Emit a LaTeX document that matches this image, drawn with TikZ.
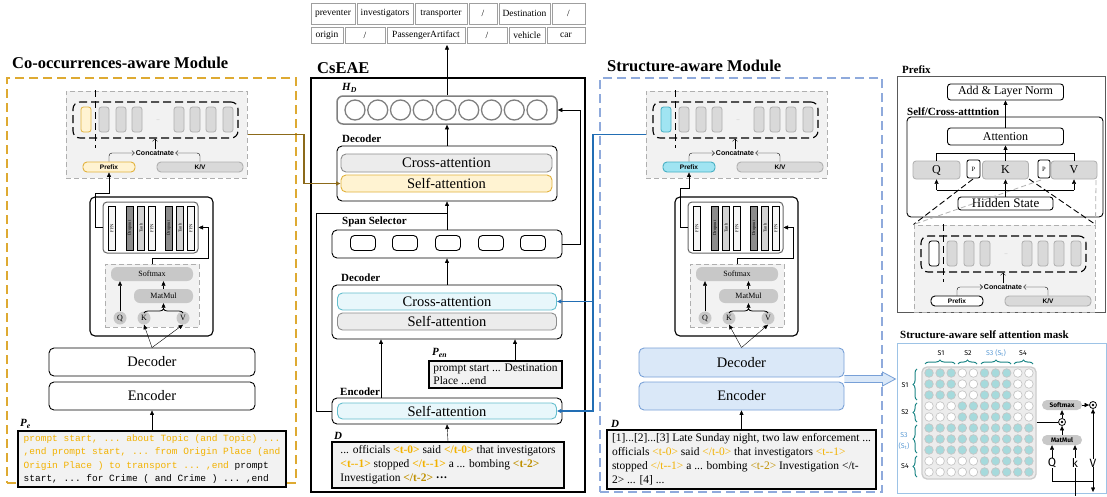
\documentclass[tikz,border=0pt]{standalone}
\usepackage{fontspec}
\setmainfont{Liberation Serif}
\setsansfont{Liberation Sans}
\setmonofont{Liberation Mono}
\newfontfamily\dinfont{Fira Sans}
\usetikzlibrary{arrows.meta,decorations.pathreplacing,calc}
\definecolor{goldd}{RGB}{222,170,50}
\definecolor{yelfill}{RGB}{255,243,210}
\definecolor{yelline}{RGB}{226,178,60}
\definecolor{olivec}{RGB}{140,106,26}
\definecolor{tagy}{RGB}{242,178,0}
\definecolor{tagd}{RGB}{191,144,0}
\definecolor{cyfill}{RGB}{232,247,251}
\definecolor{cyline}{RGB}{100,190,205}
\definecolor{cypre}{RGB}{160,228,242}
\definecolor{cypreline}{RGB}{70,175,195}
\definecolor{bluedash}{RGB}{143,170,220}
\definecolor{blueline}{RGB}{34,110,180}
\definecolor{decfill}{RGB}{218,232,248}
\definecolor{decline}{RGB}{120,160,215}
\definecolor{gfill}{RGB}{217,217,217}
\definecolor{gline}{RGB}{175,175,175}
\definecolor{lgfill}{RGB}{242,242,242}
\definecolor{pillc}{RGB}{200,200,200}
\definecolor{cgray}{RGB}{236,236,236}
\definecolor{cgrayline}{RGB}{140,140,140}
\definecolor{hdgray}{RGB}{128,128,128}
\definecolor{maskteal}{RGB}{166,218,220}
\definecolor{bracec}{RGB}{30,135,135}
\definecolor{s3blue}{RGB}{91,155,213}
\definecolor{maskbox}{RGB}{157,195,230}
\definecolor{wbar}{RGB}{246,246,246}
\definecolor{dkbar}{RGB}{140,140,140}
\definecolor{ltbar}{RGB}{210,210,210}
\newcommand{\ty}[1]{\textcolor{tagy}{#1}}
\newcommand{\td}[1]{\textcolor{tagd}{#1}}
\newcommand{\fsz}[2]{\fontsize{#1}{#2}\selectfont}
\tikzset{
  lab/.style={font=\fsz{11}{11}\bfseries, inner sep=0pt, anchor=west},
  ttl/.style={font=\fsz{16.5}{16.5}\bfseries, inner sep=0pt, anchor=west},
  rbox/.style={draw, rounded corners=5pt, line width=0.9pt, inner sep=0pt, fill=white},
  big/.style={font=\fsz{14.5}{14.5}},
  pillbox/.style={rounded corners=5pt, line width=0.9pt, inner sep=0pt, big},
  bar/.style={draw, line width=0.6pt, inner sep=0pt, minimum width=44pt, minimum height=7pt, font=\fsz{4.5}{4.5}},
  cyl/.style={rounded corners=2.5pt, minimum width=10pt, minimum height=25pt, fill=gfill, draw=gline, line width=0.8pt, inner sep=0pt},
  catbg/.style={fill=lgfill, draw=gline, dash pattern=on 5pt off 3pt, line width=1pt, minimum width=181pt, minimum height=87pt, inner sep=0pt},
  innerdash/.style={draw, line width=1.1pt, dash pattern=on 8pt off 4pt, rounded corners=7pt, minimum width=165pt, minimum height=36pt, inner sep=0pt},
  cattxt/.style={font=\sffamily\bfseries\fsz{7}{7}, inner sep=1pt},
  pfx/.style={rounded corners=4pt, line width=0.9pt, minimum width=52pt, minimum height=10pt, inner sep=0pt, font=\sffamily\bfseries\fsz{6.5}{6.5}},
  kvbox/.style={pfx, fill=gfill, draw=gline, minimum width=86pt},
  pillnode/.style={fill=pillc, rounded corners=6pt, minimum height=14pt, inner sep=0pt, font=\fsz{8}{8}},
  qkv/.style={circle, fill=pillc, minimum size=13pt, inner sep=0pt, font=\fsz{8}{8}},
  attnbg/.style={fill=lgfill, draw=gline, dash pattern=on 5pt off 3pt, line width=1pt, minimum width=94pt, minimum height=63pt, inner sep=0pt},
  tcell/.style={draw=gray!75, line width=0.7pt, inner sep=0pt, font=\fsz{9.5}{9.5}},
  modframe/.style={dash pattern=on 9pt off 5pt, line width=1.3pt, inner sep=0pt},
  textbox/.style={draw, line width=1.3pt, fill=lgfill, inner sep=3pt, align=left, font=\fsz{11.5}{14}},
  barb/.style={-{Straight Barb[length=2.5pt,width=5pt]}},
  brc/.style={decorate, decoration={brace, amplitude=4pt}, draw=bracec, line width=1pt},
  slab/.style={font=\dinfont\fsz{7}{7}, inner sep=0pt},
  mdot/.style={circle, draw=gray!45, line width=0.7pt, minimum size=8.6pt, inner sep=0pt},
  odot/.style={circle, draw, line width=0.8pt, minimum size=7pt, inner sep=0pt},
  mpill/.style={fill=pillc, rounded corners=5pt, minimum width=40pt, minimum height=10pt, inner sep=0pt, font=\dinfont\bfseries\fsz{6.5}{6.5}},
  pbox/.style={fill=gfill, draw=gline, line width=0.8pt, rounded corners=3pt, minimum width=46pt, minimum height=18pt, inner sep=0pt, font=\fsz{12}{12}},
  smallp/.style={fill=white, draw, line width=0.8pt, rounded corners=2pt, minimum width=13pt, minimum height=18pt, inner sep=0pt, font=\fsz{6.5}{6.5}},
}
% concat group: #1 suffix, #2 #3 shift, #4 #5 prefix fill/draw, #6 #7 first cylinder fill/draw
\newcommand{\concatgrp}[7]{%
\begin{scope}[shift={(#2,#3)}]
 \node[catbg] (cat#1) at (156.5,134.5) {};
 \node[innerdash] (inner#1) at (155.5,120) {};
 \node[cyl, fill=#6, draw=#7] (cz#1) at (86,119.5) {};
 \foreach \xx [count=\i] in {104,121,137,179,195,211,228} \node[cyl] (c\i#1) at (\xx,119.5) {};
 \node[font=\fsz{4}{4}, text=gray] (dots#1) at (158,120) {...};
 \draw[line width=1pt, dash pattern=on 7pt off 4pt] (95,90) -- (95,148);
 \node[cattxt] (ct#1) at (155,153) {Concatnate};
 \node[pfx, fill=#4, draw=#5] (pre#1) at (109,167) {Prefix};
 \node[kvbox] (kv#1) at (200,167) {K/V};
 \draw[barb, rounded corners=3pt] (pre#1.north) |- (ct#1.west);
 \draw[barb, rounded corners=3pt] (kv#1.north) |- (ct#1.east);
 \draw[barb] (ct#1.north) -- (ct#1.north |- inner#1.south);
\end{scope}}
% attention group: #1 suffix, #2 shift x
\newcommand{\attngrp}[2]{%
\begin{scope}[shift={(#2,0)}]
 \node[rbox, line width=1.1pt, minimum width=123pt, minimum height=139pt] (blk#1) at (151.5,266.5) {};
 \node[draw=gray!80!black, line width=1pt, rounded corners=4pt, minimum width=95pt, minimum height=51pt, inner sep=0pt] (ffn#1) at (150.5,227.5) {};
 \foreach \xx/\lab/\col [count=\i] in {112/FFN/wbar,130/Dropout/dkbar,141/Tanh/ltbar,152/FFN/wbar,169/Dropout/dkbar,180/Tanh/ltbar,191/FFN/wbar}
   \node[bar, fill=\col, rotate=90] (bar\i#1) at (\xx,228) {\lab};
 \node[attnbg] (ab#1) at (152,295.5) {};
 \node[pillnode, minimum width=82pt] (sm#1) at (152,274) {Softmax};
 \node[pillnode, minimum width=59pt] (mm#1) at (163.5,296) {MatMul};
 \node[qkv] (q#1) at (120,318) {Q};
 \node[qkv] (k#1) at (144,318) {K};
 \node[qkv] (v#1) at (183,318) {V};
 \draw[->] (q#1.north) -- (q#1.north |- sm#1.south);
 \draw[decorate, decoration={brace, amplitude=4pt}, line width=0.8pt] (144,313) -- (183,313);
 \draw[->] (163.5,308) -- (mm#1.south);
 \draw[->] (mm#1.north) -- (mm#1.north |- sm#1.south);
 \draw[->] (ab#1.north) -- ++(0,-5) -| ([xshift=10pt]ffn#1.east) -- (ffn#1.east);
\end{scope}}
\begin{document}
\begin{tikzpicture}[x=1pt,y=-1pt,>={Triangle[length=4.5pt,width=4pt]}]
\useasboundingbox (0,0) rectangle (1107,496);
\fill[white] (0,0) rectangle (1107,496);

% ---------- top table
\node[tcell, minimum width=44pt, minimum height=21pt] (t11) at (333,13.5) {preventer};
\node[tcell, minimum width=56pt, minimum height=21pt] (t12) at (385,13.5) {investigators};
\node[tcell, minimum width=52pt, minimum height=21pt] (t13) at (441,13.5) {transporter};
\node[tcell, minimum width=28pt, minimum height=21pt] (t14) at (483,13.5) {/};
\node[tcell, minimum width=51pt, minimum height=21pt] (t15) at (524.5,13.5) {Destination};
\node[tcell, minimum width=33pt, minimum height=21pt] (t16) at (568.5,13.5) {/};
\node[tcell, minimum width=32pt, minimum height=16pt] (t21) at (327,35) {origin};
\node[tcell, minimum width=40pt, minimum height=16pt] (t22) at (365,35) {/};
\node[tcell, minimum width=78pt, minimum height=16pt] (t23) at (426,35) {PassengerArtifact};
\node[tcell, minimum width=40pt, minimum height=16pt] (t24) at (487,35) {/};
\node[tcell, minimum width=36pt, minimum height=16pt] (t25) at (527,35) {vehicle};
\node[tcell, minimum width=38pt, minimum height=16pt] (t26) at (566,35) {car};
\coordinate (tabIn) at (447,45);

% ---------- titles and frames
\node[ttl] (titleL) at (12,63) {Co-occurrences-aware Module};
\node[ttl] (titleC) at (317,68) {CsEAE};
\node[ttl] (titleR) at (607,66) {Structure-aware Module};
\node[modframe, draw=goldd, minimum width=289pt, minimum height=405pt] (modL) at (151.5,280.5) {};
\node[modframe, draw=bluedash, minimum width=282pt, minimum height=414pt] (modR) at (741,285) {};
\node[draw, line width=1.2pt, minimum width=274pt, minimum height=414pt, inner sep=0pt] (cse) at (448,285) {};

% ---------- left and right modules
\concatgrp{L}{0}{0}{yelfill}{yelline}{yelfill}{yelline}
\concatgrp{R}{580}{0}{cypre}{cypreline}{cypre}{cypreline}
\attngrp{L}{0}
\attngrp{R}{585}
\draw[->] (ffnL.west) -| ++(-7,-34.5) -| (preL.south);
\draw[->] (ffnR.west) -| ++(-7,-39.5) -| (preR.south);

\node[rbox, big, minimum width=206pt, minimum height=28pt] (decoL) at (152,362) {Decoder};
\node[rbox, big, minimum width=206pt, minimum height=28pt] (encoL) at (152,396) {Encoder};
\draw[->] (decoL.north) -- (kL.south);
\draw[->] (decoL.north) -- (vL.south);
\node[lab] (peLab) at (20,424) {\textit{P\textsubscript{e}}};
\node[textbox, minimum width=268pt, minimum height=56pt, font=\ttfamily\fsz{9.5}{13.5}] (pe) at (152,459) {\ty{prompt start, ... about Topic (and Topic) ...}\\\ty{,end prompt start, ... from Origin Place (and}\\\ty{Origin Place ) to transport ... ,end} prompt\\start, ... for Crime ( and Crime ) ... ,end};
\draw[->] (pe.north) -- (encoL.south);

\node[rbox, big, fill=decfill, draw=decline, minimum width=205pt, minimum height=29pt] (decoR) at (741.5,362.5) {Decoder};
\node[rbox, big, fill=decfill, draw=decline, minimum width=205pt, minimum height=28pt] (encoR) at (741.5,396) {Encoder};
\draw[->] (decoR.north) -- (kR.south);
\draw[->] (decoR.north) -- (vR.south);
\node[lab] (dLabR) at (611,424) {\textit{D}};
\node[textbox, minimum width=269pt, minimum height=59pt] (dR) at (741.5,459.5) {[1]...[2]...[3] Late Sunday night, two law enforcement ...\\officials \ty{<t-0>} said \ty{</t-0>} that investigators \ty{<t-{}-1>}\\stopped \ty{</t-{}-1>} a ... bombing \td{<t-2>} Investigation </t-\\2> ... [4] ...};
\draw[->] (dR.north) -- (encoR.south);
\coordinate (ha) at (decoR.east |- 0,379);
\draw[fill=decfill, draw=decline, line width=0.8pt] (ha) ++(0,-3.5) -- ++(38,0) -- ++(0,-3.5) -- ++(13,7) -- ++(-13,7) -- ++(0,-3.5) -- ++(-38,0);

% ---------- CsEAE
\node[lab] (hdLab) at (342,88) {\textit{H\textsubscript{D}}};
\node[draw=hdgray, line width=1.5pt, rounded corners=6pt, minimum width=220pt, minimum height=28pt, inner sep=0pt, fill=white] (hd) at (447,110) {};
\foreach \i in {0,...,8} \node[circle, draw=hdgray, line width=1.3pt, minimum size=20pt, inner sep=0pt] (hc\i) at ({355+22.75*\i},110) {};
\draw[->] (hd.north) -- (tabIn);
\node[lab] (decULab) at (342,139) {Decoder};
\node[rbox, minimum width=220pt, minimum height=55pt] (decU) at (447,173.5) {};
\node[pillbox, fill=cgray, draw=cgrayline, minimum width=211pt, minimum height=18pt] (crossU) at (446.5,163) {Cross-attention};
\node[pillbox, fill=yelfill, draw=yelline, minimum width=211pt, minimum height=17pt] (selfU) at (446.5,183.5) {Self-attention};
\draw[->] (decU.north) -- (hd.south);
\node[lab] (spanLab) at (342,222) {Span Selector};
\node[rbox, minimum width=230pt, minimum height=28pt] (span) at (447,244) {};
\foreach \xx [count=\i] in {363,405,448,491,533} \node[draw, line width=0.9pt, rounded corners=4pt, minimum width=25pt, minimum height=15pt, inner sep=0pt] (sc\i) at (\xx,243) {};
\draw[->] (span.north) -- (decU.south);
\draw[->] (span.east) -- ++(18,0) |- (hd.east);
\node[lab] (decLLab) at (341,278) {Decoder};
\node[rbox, minimum width=230pt, minimum height=54pt] (decC) at (447,312) {};
\node[pillbox, fill=cyfill, draw=cyline, minimum width=219pt, minimum height=17pt] (crossC) at (447,301.5) {Cross-attention};
\node[pillbox, fill=cgray, draw=cgrayline, minimum width=219pt, minimum height=17pt] (selfC) at (447,321.5) {Self-attention};
\draw[->] (decC.north) -- (span.south);
\node[lab] (penLab) at (432,353) {\textit{P\textsubscript{en}}};
\node[textbox, minimum width=133pt, minimum height=27pt, font=\fsz{11.5}{12.5}] (pen) at (495.5,374.5) {prompt start ... Destination\\Place ...end};
\coordinate (penIn) at ($(pen.north)+(19.5,0)$);
\draw[->] (penIn) -- (penIn |- decC.south);
\node[lab] (encLab) at (340,392) {Encoder};
\node[rbox, minimum width=230pt, minimum height=26pt] (encC) at (447,411) {};
\node[pillbox, fill=cyfill, draw=cyline, minimum width=219pt, minimum height=16pt] (selfE) at (447,411) {Self-attention};
\coordinate (encOut) at ($(encC.north)+(-66,0)$);
\draw[->] (encOut) -- (encOut |- decC.south);
\draw (encC.west) -- ++(-15,0) |- (447,213);
\node[lab] (dLabC) at (334,436) {\textit{D}};
\node[textbox, minimum width=232pt, minimum height=46pt] (dC) at (448,465) {... officials \ty{\textbf{<t-0>}} said \ty{\textbf{</t-0>}} that investigators\\\ty{\textbf{<t-{}-1>}} stopped \ty{\textbf{</t-{}-1>}} a ... bombing \td{\textbf{<t-2>}}\\Investigation \td{\textbf{</t-2>}} \textbf{···}};
\draw[->] (dC.north) -- (encC.south);

% connectors from modules
\draw[->, olivec, line width=1.2pt] (catL.east) -- (304,134.5) |- (selfU.west);
\coordinate (bl1) at (593,134.5);
\draw[->, blueline, line width=1.3pt] (catR.west) -- (bl1) |- (selfE.east);
\draw[->, blueline, line width=1.3pt] (bl1 |- crossC.east) -- (crossC.east);

% ---------- Prefix panel
\node[lab] (preTitle) at (902,70) {Prefix};
\node[draw=gray!70!black, line width=0.8pt, minimum width=208pt, minimum height=236pt, inner sep=0pt] (prePanel) at (1001,194) {};
\concatgrp{P}{848}{134}{white}{black}{white}{black}
\node[rbox, rounded corners=3pt, minimum width=116pt, minimum height=16pt, font=\fsz{12}{12}] (addn) at (1005.5,92) {Add \& Layer Norm};
\node[lab] (scLab) at (907,112) {Self/Cross-atttntion};
\node[draw, line width=0.9pt, rounded corners=4pt, minimum width=196pt, minimum height=100pt, inner sep=0pt] (scBox) at (1005,167) {};
\draw[line width=0.9pt, dash pattern=on 6pt off 3pt] (973,179) -- (catP.north west);
\draw[line width=0.9pt, dash pattern=on 6pt off 3pt] (1029,179) -- (catP.north east);
\draw[gray!60, line width=0.8pt, dash pattern=on 5pt off 3pt] (1096,180) -- (catP.north east);
\node[rbox, rounded corners=3pt, minimum width=116pt, minimum height=17pt, font=\fsz{12}{12}] (attn) at (1005.5,136.5) {Attention};
\node[pbox, minimum width=47pt] (qP) at (936.5,170) {Q};
\node[smallp] (p1) at (973.5,169) {P};
\node[pbox] (kP) at (1005.5,170) {K};
\node[smallp, minimum width=12pt] (p2) at (1044,169) {P};
\node[pbox] (vP) at (1074,170) {V};
\node[rbox, rounded corners=3pt, minimum width=95pt, minimum height=13pt, font=\fsz{13}{13}] (hid) at (1005.5,203.5) {Hidden State};
\draw[gray!60, line width=0.8pt, dash pattern=on 5pt off 3pt] (1041,180) -- (catP.north west);
\draw[line width=0.8pt] (qP.north) -- ++(0,-7) -| (vP.north);
\draw[->] (kP.north) -- (attn.south);
\draw[->] (attn.north) -- (addn.south);
\draw[->] (hid.north) -- (kP.south);
\draw[line width=0.8pt] (qP.south |- 0,190) -- (vP.south |- 0,190);
\draw[->] (qP.south |- 0,190) -- (qP.south);
\draw[->] (vP.south |- 0,190) -- (vP.south);

% ---------- mask panel
\node[lab, font=\fsz{11}{11}\bfseries] (maskTitle) at (900,335) {Structure-aware self attention mask};
\node[draw=maskbox, line width=1pt, minimum width=209.5pt, minimum height=150pt, inner sep=0pt] (maskBox) at (1001.75,418) {};
\node[draw=gray!40, fill=gray!15, line width=1.3pt, rounded corners=5pt, minimum width=114pt, minimum height=112pt, inner sep=0pt] (grid) at (979,423) {};
\foreach \rowlist [count=\j] in {{1,1,1,0,0,1,1,1,0,0},{1,1,1,0,0,1,1,1,0,0},{1,1,1,0,0,1,1,1,0,0},{0,0,0,1,1,1,1,1,0,0},{0,0,0,1,1,1,1,1,0,0},{1,1,1,1,1,1,1,1,1,1},{1,1,1,1,1,1,1,1,1,1},{1,1,1,1,1,1,1,1,1,1},{0,0,0,0,0,1,1,1,1,1},{0,0,0,0,0,1,1,1,1,1}} {
  \foreach \v [count=\i] in \rowlist {
    \ifnum\v=1 \def\cc{maskteal}\else\def\cc{white}\fi
    \node[mdot, fill=\cc] (m\j-\i) at ({929+11.1*(\i-1)},{373+11*(\j-1)}) {};
  }
}
\draw[brc] (925,364) -- (955,364);
\draw[brc] (958,364) -- (977,364);
\draw[brc] (981,364) -- (1011,364);
\draw[brc] (1014,364) -- (1033,364);
\node[slab] (cs1) at (941,353) {S1};
\node[slab] (cs2) at (968,353) {S2};
\node[slab, text=s3blue] (cs3) at (996,353) {S3 (S\textsubscript{t})};
\node[slab] (cs4) at (1023,353) {S4};
\draw[brc] (917,400) -- (917,369);
\draw[brc] (917,422) -- (917,403);
\draw[brc] (917,453) -- (917,425);
\draw[brc] (917,477) -- (917,456);
\node[slab] (rs1) at (905,385) {S1};
\node[slab] (rs2) at (905,412) {S2};
\node[slab, text=s3blue] (rs3a) at (904,435) {S3};
\node[slab, text=s3blue] (rs3b) at (904,446) {(S\textsubscript{t})};
\node[slab] (rs4) at (905,466) {S4};
\node[odot] (o1) at (1062,422) {};
\fill (o1.center) circle (1.3pt);
\node[odot] (o2) at (1093,405) {};
\fill (o2.center) circle (1.3pt);
\node[mpill] (smM) at (1062,405) {Softmax};
\node[mpill] (mmM) at (1062,440) {MatMul};
\draw[line width=0.8pt] (grid.east |- o1.west) -- (o1.west);
\draw[->] (o1.north) -- (smM.south);
\draw[->] (mmM.north) -- (o1.south);
\draw[->] (smM.east) -- (o2.west);
\node[font=\dinfont\fsz{12}{12}, inner sep=0pt] (qM) at (1052,463) {Q};
\node[font=\dinfont\fsz{12}{12}, inner sep=0pt] (kM) at (1075,463) {k};
\node[font=\dinfont\fsz{12}{12}, inner sep=0pt] (vM) at (1093,463) {V};
\draw[->] (qM.north) -- (qM.north |- mmM.south);
\draw[->] (kM.north) -- (kM.north |- mmM.south);
\draw[->] (vM.north) -- (o2.south);
\draw[line width=0.8pt] (qM.south) -- ++(0,13) -| (vM.south);
\draw[line width=0.8pt] (kM.south) -- (kM.south |- 0,496);
\draw[->] (vM.south) -- (vM.south |- 0,492);
\end{tikzpicture}
\end{document}
